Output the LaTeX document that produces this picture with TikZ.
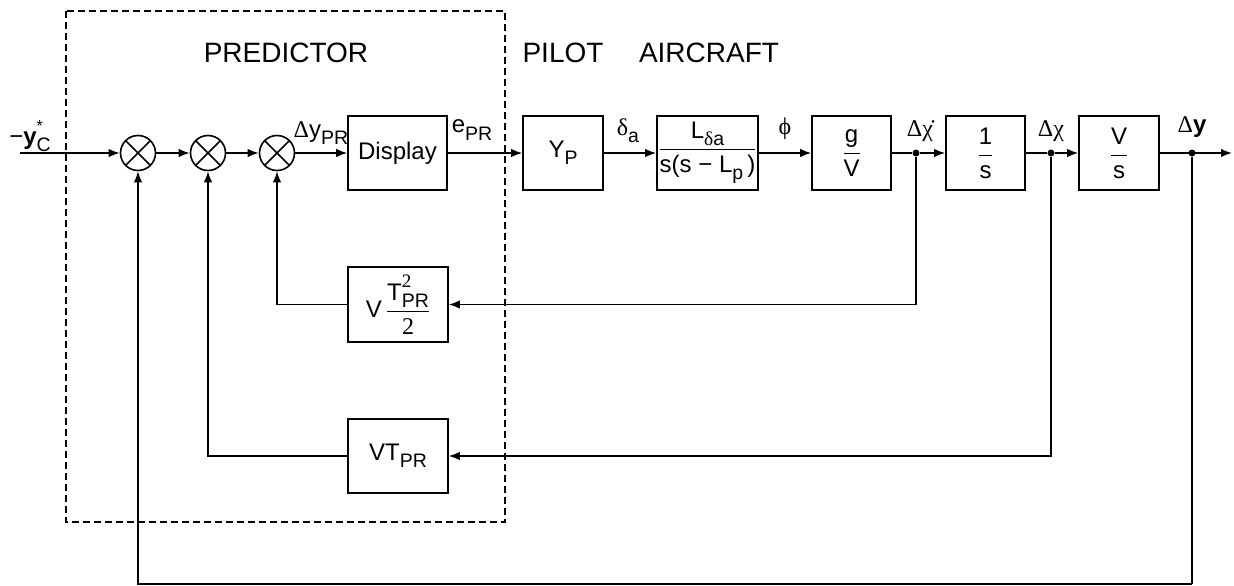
\documentclass[tikz,border=0pt]{standalone}
\usepackage{fontspec}
\setmainfont{Liberation Sans}
\newfontfamily\grk{Liberation Serif}
\usetikzlibrary{arrows.meta}
\newcommand{\sbs}[1]{\raisebox{-0.3em}{\fontsize{19.5}{19.5}\selectfont #1}}
\newcommand{\fr}[2]{$\displaystyle\frac{\hbox{#1}}{\hbox{#2}}$}
\begin{document}
\begin{tikzpicture}[x=1pt,y=-1pt,
  font=\fontsize{24}{28}\selectfont,
  ln/.style={line width=1.6pt},
  arr/.style={line width=1.6pt,-{Latex[length=11pt,width=8.5pt]}},
  blk/.style={draw,line width=1.6pt,minimum height=74pt,inner sep=0pt,anchor=center},
  sumj/.style={draw,circle,line width=1.6pt,minimum size=35pt,inner sep=0pt,
    path picture={\draw[line width=1.6pt]
      (path picture bounding box.north west)--(path picture bounding box.south east)
      (path picture bounding box.north east)--(path picture bounding box.south west);}},
  lbl/.style={inner sep=0pt,anchor=center},
  title/.style={inner sep=0pt,anchor=base,font=\fontsize{28}{32}\selectfont},
  dot/.style={circle,fill,inner sep=0pt,minimum size=7pt}]
\useasboundingbox (0,0) rectangle (1234,586);
% dashed predictor frame
\draw[line width=1.3pt,dash pattern=on 7pt off 4pt] (66,11) rectangle (505,522);
\node[title] (tpred) at (286,63) {PREDICTOR};
\node[title] (tpil) at (563,63) {PILOT};
\node[title] (tair) at (709,63) {AIRCRAFT};
% junctions
\node[sumj] (s1) at (138,153) {};
\node[sumj] (s2) at (208,153) {};
\node[sumj] (s3) at (277,153) {};
% blocks
\node[blk,minimum width=99pt] (disp) at (397.5,153) {Display};
\node[blk,minimum width=80pt] (yp) at (563,153) {Y\sbs{P}};
\node[blk,minimum width=101pt] (lb) at (707.5,153) {\fr{L\sbs{\grk δ}\sbs{a}}{s(s − L\sbs{p}\,)}};
\node[blk,minimum width=79pt] (gv) at (851.5,153) {\fr{g}{V}};
\node[blk,minimum width=79pt] (is) at (985.5,153) {\fr{1}{s}};
\node[blk,minimum width=80pt] (vs) at (1119,153) {\fr{V}{s}};
\node[blk,minimum width=100pt,minimum height=75pt] (vt2) at (398,304.5)
  {V\,\fr{T\rlap{\raisebox{0.55em}{\grk\fontsize{19}{19}\selectfont 2}}\sbs{PR}}{\grk 2}};
\node[blk,minimum width=100pt] (vt) at (398,456) {VT\sbs{PR}};
% coordinates
\coordinate (in) at (20,153);
\coordinate (out) at (1232,153);
\node[dot] (d1) at (916,153) {};
\node[dot] (d2) at (1051,153) {};
\node[dot] (d3) at (1192,153) {};
\coordinate (bot) at (1192,584);
% forward path
\draw[arr] (in) -- (s1);
\draw[arr] (s1) -- (s2);
\draw[arr] (s2) -- (s3);
\draw[arr] (s3) -- (disp);
\draw[arr] (disp) -- (yp);
\draw[arr] (yp) -- (lb);
\draw[arr] (lb) -- (gv);
\draw[ln] (gv) -- (d1);
\draw[arr] (d1) -- (is);
\draw[ln] (is) -- (d2);
\draw[arr] (d2) -- (vs);
\draw[arr] (vs) -- (out);
% feedback
\draw[arr] (d1) |- (vt2);
\draw[arr] (vt2) -| (s3);
\draw[arr] (d2) |- (vt);
\draw[arr] (vt) -| (s2);
\draw[ln] (d3) -- (bot);
\draw[arr] (bot) -| (s1);
% signal labels
\node[lbl] (lin) at (30,136) {−\textbf{y}\rlap{\raisebox{0.55em}{\fontsize{16}{16}\selectfont *}}\sbs{C}};
\node[lbl] (ldy) at (321,133) {{\grk Δ}y\sbs{PR}};
\node[lbl] (lepr) at (472,130) {e\sbs{PR}};
\node[lbl] (lda) at (628,131) {{\grk δ}\sbs{a}};
\node[lbl] (lphi) at (785,129) {\grk ϕ};
\node[lbl] (ldxd) at (920,131) {\grk Δχ̇};
\node[lbl] (ldx) at (1051,131) {\grk Δχ};
\node[lbl] (ldyo) at (1192,127) {{\grk Δ}\textbf{y}};
\end{tikzpicture}
\end{document}
